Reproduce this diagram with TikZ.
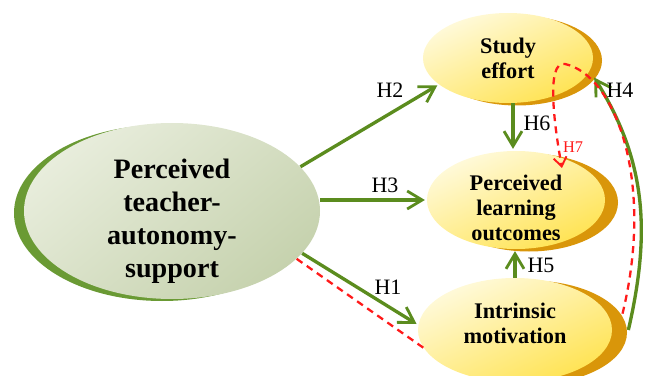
\documentclass[tikz,border=0pt]{standalone}
\usepackage{fontspec}
\setmainfont{Liberation Serif}
\usepackage{xcolor}
\usepackage{tikz}
\usetikzlibrary{calc, quotes, arrows.meta, shapes.geometric, shadows}

\definecolor{arrowgreen}{HTML}{5B8C1E}
\definecolor{dashred}{HTML}{FF1A1A}
\definecolor{shadowgold}{HTML}{D9960A}
\definecolor{shadowgreen}{HTML}{6A9A34}
\definecolor{yellowtop}{HTML}{FFFADC}
\definecolor{yellowbottom}{HTML}{FFE352}
\definecolor{greentop}{HTML}{E8EDDC}
\definecolor{greenbottom}{HTML}{C6D2AE}

\begin{document}
\begin{tikzpicture}[
  construct/.style={ellipse, inner sep=0pt},
  constructtext/.style={align=center, inner sep=0pt,
    font=\bfseries\fontsize{12.7}{14.3}\selectfont},
  yellowface/.style={construct, top color=yellowtop, bottom color=yellowbottom,
    shading angle=25,
    general shadow={shadow xshift=#1, shadow yshift=-0.05cm, fill=shadowgold}},
  hyp/.style={draw=arrowgreen, line width=1.9pt,
    -{Straight Barb[length=3mm, width=3.6mm, line width=1.6pt]}, shorten >=1pt},
  hypred/.style={draw=dashred, line width=1.3pt, dash pattern=on 4pt off 3pt},
  hlabel/.style={font=\fontsize{12.5}{14}\selectfont}
]
\useasboundingbox (0,0) rectangle (12.9,7.5);

% constructs
\node [construct, minimum width=5.92cm, minimum height=3.52cm,
  top color=greentop, bottom color=greenbottom, shading angle=40,
  general shadow={shadow xshift=-0.2cm, shadow yshift=-0.04cm, fill=shadowgreen},
  label={[constructtext, yshift=-0.2cm, font=\bfseries\fontsize{16}{18.7}\selectfont]
    center:Perceived\\teacher-\\autonomy-\\support}]
  (pta) at (3.44,3.28) {};
\node [yellowface=0.18cm, minimum width=3.4cm, minimum height=1.8cm,
  label={[constructtext]center:Study\\effort}]
  (se) at (10.16,6.34) {};
\node [yellowface=0.26cm, minimum width=3.56cm, minimum height=1.96cm,
  label={[constructtext, yshift=-0.16cm]center:Perceived\\learning\\outcomes}]
  (plo) at (10.32,3.5) {};
\node [yellowface=0.3cm, minimum width=3.88cm, minimum height=2.08cm,
  label={[constructtext, yshift=0.13cm]center:Intrinsic\\motivation}]
  (im) at (10.3,0.9) {};

% paths
\draw [hyp] (pta.19) -- (se.201);
\draw [hyp] (plo.west -| pta.east) -- (plo.west);
\draw [hyp] (pta.-18) -- (im.177);
\draw [hyp] ($(se.south)+(0.1,0)$) -- ($(se.south |- plo.north)+(0.1,0)$);
\draw [hyp] (im.north) -- (im.north |- plo.south);
\draw [hyp] ($(im.east)+(0.32,0)$) to[out=77, in=-58] ($(se.-13)+(0.14,0)$);
\draw [hypred] (pta.-21) -- (im.191);
\draw [hypred, -{Straight Barb[length=1.8mm, width=2.6mm, line width=1.1pt]}]
  ($(im.10)+(0.3,0)$) .. controls (13.1,3.9) and (12.3,6.0) .. (11.3,6.22)
  .. controls (10.9,6.3) and (11.1,4.9) .. ($(plo.center)+(0.92,0.64)$);

% labels
\node [hlabel] (h2) at (7.8,5.7) {H2};
\node [hlabel] (h3) at (7.7,3.8) {H3};
\node [hlabel] (h1) at (7.76,1.76) {H1};
\node [hlabel] (h6) at (10.74,5.04) {H6};
\node [hlabel] (h5) at (10.82,2.2) {H5};
\node [hlabel] (h4) at (12.4,5.7) {H4};
\node [text=dashred, font=\fontsize{9.3}{11}\selectfont] (h7) at (11.46,4.56) {H7};
\end{tikzpicture}
\end{document}
